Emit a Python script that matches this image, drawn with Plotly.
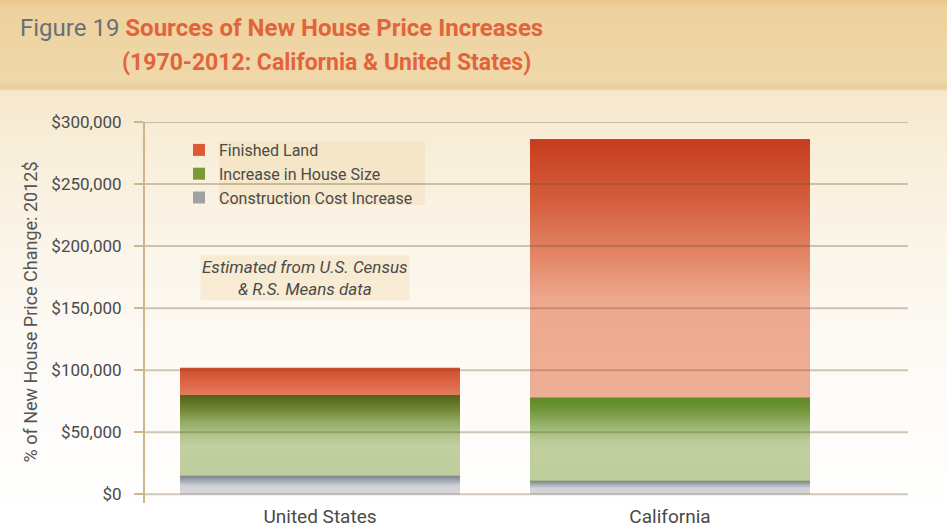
import base64, struct, zlib
import plotly.graph_objects as go

# ---------------- data ----------------
categories = ["United States", "California"]
construction_cost = [15000, 11000]
house_size = [65000, 67000]
finished_land = [22000, 208000]
y_ticks = [0, 50000, 100000, 150000, 200000, 250000, 300000]
y_tick_labels = ["$0", "$50,000", "$100,000", "$150,000", "$200,000", "$250,000", "$300,000"]

# ---------------- styles ----------------
FONT = "Roboto, Liberation Sans, sans-serif"
gray_col = "#a0a2a4"
green_col = "#7a9a34"
red_col = "#dd5b34"
BAR_W = 0.8

# vertical shading for each segment (top -> bottom), one list per bar
gray_grad = [
    [(0, "#7b828e"), (0.3, "#a9aeb6"), (0.55, "#cfd3d8"), (1, "#d4d7db")],
    [(0, "#7b828e"), (0.3, "#a9aeb6"), (0.55, "#cfd3d8"), (1, "#d4d7db")],
]
green_grad = [
    [(0, "#566417"), (0.15, "#6c8032"), (0.32, "#90aa61"), (0.5, "#b1c58b"), (0.62, "#c0cf9e"), (1, "#bfce9c")],
    [(0, "#5e8a25"), (0.15, "#72973a"), (0.35, "#9bb671"), (0.5, "#b8ca92"), (0.62, "#c0cf9e"), (1, "#bfce9c")],
]
red_grad = [
    [(0, "#d24a29"), (0.5, "#dc6343"), (1, "#e37d5d")],
    [(0, "#c63e1e"), (0.24, "#d55f3e"), (0.47, "#e48a6b"), (0.62, "#eda98f"), (1, "#eeae96")],
]

W, H = 947, 527
L, R, T, B = 145, 39, 122, 24
pw, ph = W - L - R, H - T - B


def hx(s):
    s = s.lstrip("#")
    return tuple(int(s[i:i + 2], 16) for i in (0, 2, 4))


def png_uri(stops, height, width=2):
    stops = [(p, hx(c) if isinstance(c, str) else c) for p, c in stops]
    def col_at(f):
        for (y0, c0), (y1, c1) in zip(stops, stops[1:]):
            if y0 <= f <= y1:
                t = 0 if y1 == y0 else (f - y0) / (y1 - y0)
                return tuple(round(c0[i] + (c1[i] - c0[i]) * t) for i in range(3))
        return stops[-1][1]
    raw = b""
    for y in range(height):
        raw += b"\x00" + bytes(col_at(y / (height - 1))) * width
    def chunk(t, d):
        c = struct.pack(">I", len(d)) + t + d
        return c + struct.pack(">I", zlib.crc32(t + d) & 0xffffffff)
    png = b"\x89PNG\r\n\x1a\n" + chunk(b"IHDR", struct.pack(">IIBBBBB", width, height, 8, 2, 0, 0, 0))
    png += chunk(b"IDAT", zlib.compress(raw)) + chunk(b"IEND", b"")
    return "data:image/png;base64," + base64.b64encode(png).decode()


bg_stops = [
    (0, "#e8c68a"), (8 / H, "#eed29e"), (80 / H, "#f0d8aa"), (88 / H, "#e9cd98"),
    (91 / H, "#f6e8cd"), (150 / H, "#f8eed9"), (250 / H, "#fbf5ea"),
    (350 / H, "#fdfaf5"), (450 / H, "#fefdfb"), (1, "#ffffff"),
]

fig = go.Figure()
fig.add_trace(go.Bar(name="Construction Cost Increase", x=categories, y=construction_cost,
                     width=BAR_W, marker=dict(color=gray_col, line=dict(width=0))))
fig.add_trace(go.Bar(name="Increase in House Size", x=categories, y=house_size,
                     width=BAR_W, marker=dict(color=green_col, line=dict(width=0))))
fig.add_trace(go.Bar(name="Finished Land", x=categories, y=finished_land,
                     width=BAR_W, marker=dict(color=red_col, line=dict(width=0))))

images = [dict(source=png_uri(bg_stops, H), xref="paper", yref="paper", x=-L / pw, y=1 + T / ph,
               sizex=W / pw, sizey=H / ph, sizing="stretch", layer="below",
               xanchor="left", yanchor="top")]

# shading overlays placed on each stacked segment, derived from the data
for i in range(len(categories)):
    base = 0
    for vals, grads in ((construction_cost, gray_grad), (house_size, green_grad), (finished_land, red_grad)):
        top = base + vals[i]
        images.append(dict(source=png_uri(grads[i], 96), xref="x", yref="y",
                           x=i - BAR_W / 2, y=top, sizex=BAR_W, sizey=vals[i],
                           sizing="stretch", layer="above", xanchor="left", yanchor="top"))
        base = top

shapes = []
for t in y_ticks:
    shapes.append(dict(type="line", xref="paper", x0=0, x1=1, yref="y", y0=t, y1=t,
                       layer="above", line=dict(color="rgba(110,90,55,0.33)", width=2)))
# legend text highlight
shapes.append(dict(type="rect", xref="paper", yref="paper",
                   x0=(219 - L) / pw, x1=(425 - L) / pw,
                   y0=1 - (205 - T) / ph, y1=1 - (141 - T) / ph,
                   layer="below", line=dict(width=0), fillcolor="rgba(240,215,165,0.35)"))

annotations = [
    dict(text="Figure 19 <b><span style='color:#e2643c'>Sources of New House Price Increases</span></b>",
         xref="paper", yref="paper", x=(18 - L) / pw, y=1 + (T - 28) / ph, xanchor="left", yanchor="middle",
         showarrow=False, font=dict(family=FONT, size=24, color="#67707a")),
    dict(text="<b>(1970-2012: California & United States)</b>",
         xref="paper", yref="paper", x=(120 - L) / pw, y=1 + (T - 63) / ph, xanchor="left", yanchor="middle",
         showarrow=False, font=dict(family=FONT, size=23, color="#e2643c")),
    dict(text="<i>Estimated from U.S. Census<br>& R.S. Means data</i>",
         xref="paper", yref="paper", x=(305 - L) / pw, y=1 - (278 - T) / ph, xanchor="center", yanchor="middle",
         showarrow=False, align="center", bgcolor="rgba(240,215,165,0.35)",
         font=dict(family=FONT, size=17, color="#4a4a4a")),
    dict(text="% of New House Price Change: 2012$", textangle=-90,
         xref="paper", yref="paper", x=(30 - L) / pw, y=0.5, xanchor="center", yanchor="middle",
         showarrow=False, font=dict(family=FONT, size=18, color="#555555")),
]

fig.update_layout(
    width=W, height=H,
    margin=dict(l=L, r=R, t=T, b=B, pad=0),
    barmode="stack",
    paper_bgcolor="#ffffff", plot_bgcolor="rgba(0,0,0,0)",
    font=dict(family=FONT, color="#4a4a4a"),
    showlegend=True,
    legend=dict(x=(179 - L) / pw, y=1 - (133 - T) / ph, xanchor="left", yanchor="top",
                traceorder="reversed", bgcolor="rgba(0,0,0,0)",
                font=dict(family=FONT, size=16, color="#4a4a4a"), itemclick=False),
    xaxis=dict(range=[-0.5, -0.5 + pw / 350], showgrid=False, showline=False, ticks="",
               automargin=False,
               tickfont=dict(family=FONT, size=19, color="#4a4a4a"), fixedrange=True),
    yaxis=dict(range=[-7000, 300000], tickvals=y_ticks, ticktext=y_tick_labels,
               automargin=False,
               showgrid=False, zeroline=False, showline=True, linecolor="#cdb68e", linewidth=2,
               ticks="outside", ticklen=9, tickwidth=1.5, tickcolor="#cdb68e",
               ticklabelstandoff=9,
               tickfont=dict(family=FONT, size=17, color="#4a4a4a"), fixedrange=True),
    shapes=shapes, annotations=annotations, images=images,
)

fig.write_html("out.html", config={"displayModeBar": False},
               post_script="document.body.style.margin='0px';document.body.style.overflow='hidden';")
